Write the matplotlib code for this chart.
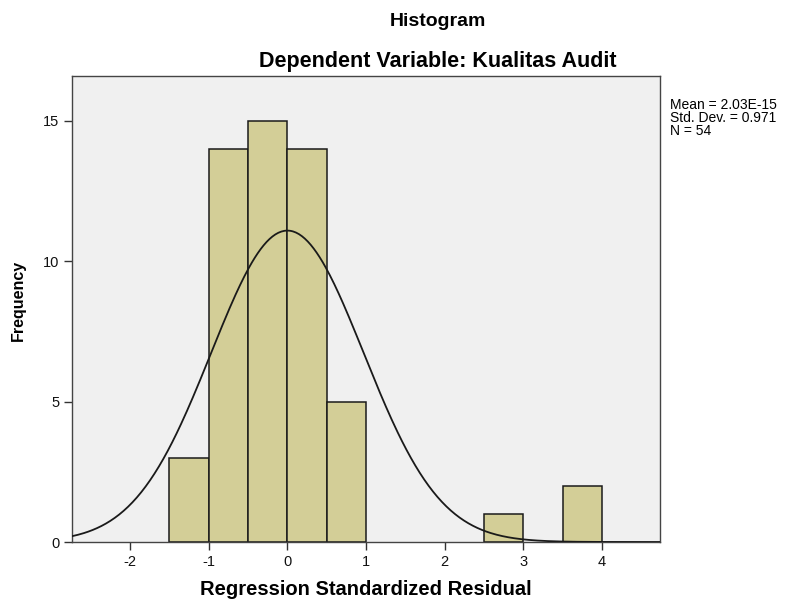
import numpy as np
import matplotlib.pyplot as plt

plt.rcParams['font.family'] = ['Liberation Sans', 'DejaVu Sans']
plt.rcParams['axes.unicode_minus'] = False

# histogram data
bin_left = [-1.5, -1.0, -0.5, 0.0, 0.5, 2.5, 3.5]
counts = [3, 14, 15, 14, 5, 1, 2]
bin_width = 0.5

mean = 2.03e-15
std = 0.971
n = 54

fig = plt.figure(figsize=(7.89, 5.99), dpi=100)
ax = fig.add_axes([72 / 789, 57 / 599, 588 / 789, 466 / 599])
ax.set_facecolor('#f0f0f0')

ax.bar(bin_left, counts, width=bin_width, align='edge',
       color='#d3ce97', edgecolor='#1a1a1a', linewidth=1.1, zorder=2)

# fitted normal curve
xs = np.linspace(-2.74, 4.74, 400)
ys = n * bin_width * np.exp(-0.5 * ((xs - mean) / std) ** 2) / (std * np.sqrt(2 * np.pi))
ax.plot(xs, ys, color='#1a1a1a', linewidth=1.3, zorder=3)

ax.set_xlim(-2.74, 4.74)
ax.set_ylim(0, 16.6)
ax.set_xticks([-2, -1, 0, 1, 2, 3, 4])
ax.set_yticks([0, 5, 10, 15])
ax.tick_params(direction='out', length=6, width=1, colors='#333333',
               labelsize=10.5, labelcolor='#111111', pad=3)
for s in ax.spines.values():
    s.set_color('#444444')
    s.set_linewidth(1.0)

ax.set_xlabel('Regression Standardized Residual', fontsize=14.5, fontweight='bold', va='center')
ax.xaxis.set_label_coords(0.5, -0.103)
ax.set_ylabel('Frequency', fontsize=11.5, fontweight='bold', va='center')
ax.yaxis.set_label_coords(-0.092, 0.519)

fig.text(438 / 789, 1 - 22 / 599, 'Histogram', ha='center', va='center',
         fontsize=14, fontweight='bold')
fig.text(438 / 789, 1 - 61 / 599, 'Dependent Variable: Kualitas Audit', ha='center',
         va='center', fontsize=15.5, fontweight='bold')

fig.text(670 / 789, 1 - 118 / 599, 'Mean = 2.03E-15\nStd. Dev. = 0.971\nN = 54',
         ha='left', va='center', fontsize=10, linespacing=0.9)

fig.savefig('out.png', dpi=100)
